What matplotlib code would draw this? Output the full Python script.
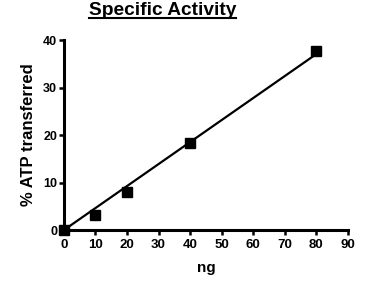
import numpy as np
import matplotlib
matplotlib.use("Agg")
import matplotlib.pyplot as plt
from matplotlib.lines import Line2D

plt.rcParams['font.family'] = ['Liberation Sans', 'DejaVu Sans']
plt.rcParams['font.weight'] = 'bold'

# data
ng = np.array([0, 10, 20, 40, 80])
atp = np.array([0, 3.2, 8.0, 18.4, 37.6])

# linear fit through the origin
slope = np.sum(ng * atp) / np.sum(ng * ng)
x_fit = np.array([0, 80])
y_fit = slope * x_fit

fig = plt.figure(figsize=(3.74, 2.84), dpi=100)
ax = fig.add_axes([0.171, 0.19, 0.759, 0.669])

ax.plot(x_fit, y_fit, color="black", lw=1.6, zorder=2)
ax.plot(ng, atp, 's', color="black", ms=6.5, clip_on=False, zorder=3)

ax.set_xlim(0, 90)
ax.set_ylim(0, 40)
ax.set_xticks(np.arange(0, 91, 10))
ax.set_yticks(np.arange(0, 41, 10))
for s in ["top", "right"]:
    ax.spines[s].set_visible(False)
for s in ["left", "bottom"]:
    ax.spines[s].set_linewidth(2.2)
ax.tick_params(direction="out", length=3.5, width=1.8, pad=2)
ax.tick_params(axis="x", labelsize=9.5, pad=3)
ax.tick_params(axis="y", labelsize=9, pad=1.5)
for lab in ax.get_xticklabels() + ax.get_yticklabels():
    lab.set_fontweight("bold")

ax.set_xlabel("ng", fontsize=11, fontweight="bold", labelpad=7)
ax.set_ylabel("% ATP transferred", fontsize=12, fontweight="bold", labelpad=5)

# underlined title
title = fig.text(162.5 / 374, 1 - 15 / 284, "Specific Activity", ha="center", va="baseline",
                 fontsize=13.8, fontweight="bold")
fig.canvas.draw()
bb = title.get_window_extent().transformed(fig.transFigure.inverted())
yline = 1 - 17.5 / 284
fig.add_artist(Line2D([bb.x0, bb.x1], [yline, yline], color="black", lw=1.5,
                      transform=fig.transFigure))

fig.savefig("out.png", dpi=100)
